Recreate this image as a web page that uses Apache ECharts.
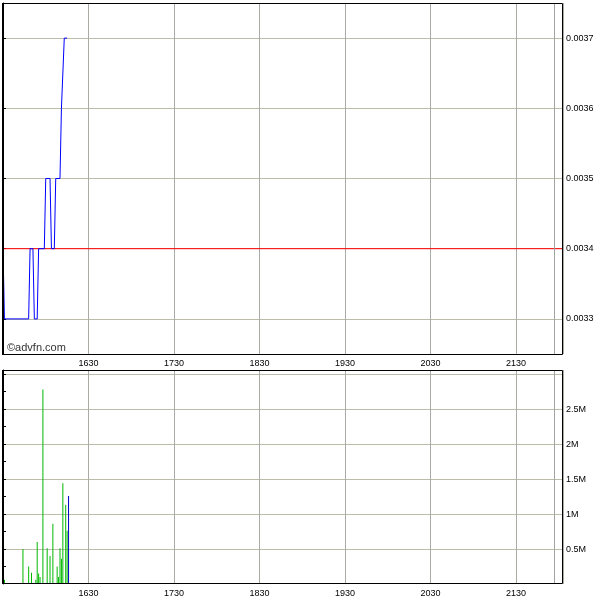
<!DOCTYPE html>
<html>
<head>
<meta charset="utf-8">
<script src="https://cdn.jsdelivr.net/npm/echarts@6/dist/echarts.min.js"></script>
<style>html,body{margin:0;padding:0;background:#fff}#c{width:600px;height:600px}</style>
</head>
<body>
<div id="c"></div>
<script>
// ---- data ----
var sessionStart = '15:30';
var sessionEnd = '21:57';
var prevClose = 0.0034;

var priceTimes = ['15:30','15:31','15:48','15:49','15:51','15:52','15:54','15:55','15:59','16:00','16:03','16:04','16:06','16:07','16:10','16:11','16:12','16:13','16:15'];
var prices     = [0.0034,0.0033,0.0033,0.0034,0.0034,0.0033,0.0033,0.0034,0.0034,0.0035,0.0035,0.0034,0.0034,0.0035,0.0035,0.0036,0.0036,0.0037,0.0037];

var volTimes = ['15:30','15:31','15:44','15:48','15:50','15:53','15:54','15:55','15:56','15:58','16:01','16:03','16:05','16:08','16:09','16:10','16:11','16:12','16:14','16:15','16:16'];
var volumes  = [130000,60000,500000,250000,160000,60000,600000,150000,100000,2780000,510000,400000,860000,250000,100000,510000,360000,1440000,1130000,760000,1260000];

var priceTicks = [0.0033,0.0034,0.0035,0.0036,0.0037];
var volTicks = [500000,1000000,1500000,2000000,2500000,3000000];
var volTickLabels = ['0.5M','1M','1.5M','2M','2.5M',''];

// ---- helpers ----
function toMin(t){var p=t.split(':');return (+p[0])*60+(+p[1]);}
var t0 = toMin(sessionStart);
function rel(t){return toMin(t)-t0;}
function hhmm(v){var m=t0+v;var h=Math.floor(m/60),mm=m%60;return ''+h+(mm<10?'0':'')+mm;}

var priceData = priceTimes.map(function(t,i){return [rel(t),prices[i]];});
var volData = volTimes.map(function(t,i){return [rel(t),volumes[i]];});

var FONT = "'Liberation Sans', Arial, sans-serif";
var XMAX = 393;

function xAxisCfg(idx){
  return {
    type:'value', gridIndex:idx, min:0, max:XMAX, interval:60,
    axisLine:{show:false}, axisTick:{show:false},
    axisLabel:{fontFamily:FONT,fontSize:9,color:'#000',margin:5,showMaxLabel:false,
      formatter:function(v){return v===0||v>=XMAX?'':hhmm(v);}},
    splitLine:{show:true,lineStyle:{color:'#a8aca4',width:1}}
  };
}

var chart = echarts.init(document.getElementById('c'), null, {renderer:'canvas'});
chart.setOption({
  animation:false,
  backgroundColor:'#fff',
  grid:[
    {left:3, top:3, width:560, height:351, containLabel:false},
    {left:3, top:370, width:560, height:214, containLabel:false}
  ],
  xAxis:[xAxisCfg(0), xAxisCfg(1)],
  yAxis:[
    {type:'value', gridIndex:0, position:'right', min:0.00325, max:0.00375, interval:0.0001,
      axisLine:{show:true,lineStyle:{color:'#000',width:1}},
      axisTick:{show:true,length:3,inside:false,customValues:priceTicks,lineStyle:{color:'#000'}},
      minorTick:{show:true,splitNumber:2,length:3,lineStyle:{color:'#000'}},
      axisLabel:{fontFamily:FONT,fontSize:9,color:'#000',margin:3,customValues:priceTicks,
        formatter:function(v){return v.toFixed(4);}},
      splitLine:{show:true,lineStyle:{color:'#bcbca8',width:1}}
    },
    {type:'value', gridIndex:1, position:'right', min:0, max:3060000, interval:500000,
      axisLine:{show:true,lineStyle:{color:'#000',width:1}},
      axisTick:{show:true,length:3,customValues:volTicks,lineStyle:{color:'#000'}},
      minorTick:{show:true,splitNumber:2,length:3,lineStyle:{color:'#000'}},
      axisLabel:{fontFamily:FONT,fontSize:9,color:'#000',margin:3,customValues:volTicks,
        formatter:function(v){var i=volTicks.indexOf(v);return i>=0?volTickLabels[i]:'';}},
      splitLine:{show:true,lineStyle:{color:'#bcbca8',width:1}}
    }
  ],
  series:[
    {type:'line', name:'prevClose', xAxisIndex:0, yAxisIndex:0,
      data:[[0,prevClose],[XMAX,prevClose]], showSymbol:false, silent:true,
      lineStyle:{color:'#ff0000',width:1}, itemStyle:{color:'#ff0000'}, z:4},
    {type:'line', xAxisIndex:0, yAxisIndex:0, data:priceData, showSymbol:false,
      lineStyle:{color:'#0000ff',width:1}, itemStyle:{color:'#0000ff'}, z:5,
      markLine:{silent:true, symbol:'none', label:{show:false},
        lineStyle:{color:'#a0a4a0',width:1,type:'solid'},
        data:[{xAxis:rel(sessionEnd)}]}
    },
    {type:'bar', xAxisIndex:1, yAxisIndex:1, data:volData, barWidth:1, barMinWidth:1,
      itemStyle:{color:function(p){return p.dataIndex===volData.length-1?'#0000c0':'#00b800';}},
      markLine:{silent:true, symbol:'none', label:{show:false},
        lineStyle:{color:'#a0a4a0',width:1,type:'solid'},
        data:[{xAxis:rel(sessionEnd)}]}
    }
  ],
  graphic:[
    {type:'rect', z:100, silent:true, shape:{x:3.5,y:3.5,width:559,height:351}, style:{fill:null,stroke:'#000',lineWidth:1}},
    {type:'rect', z:100, silent:true, shape:{x:3.5,y:370.5,width:559,height:213}, style:{fill:null,stroke:'#000',lineWidth:1}},
    {type:'line', z:101, silent:true, shape:{x1:3,y1:3,x2:3,y2:355}, style:{stroke:'#000',lineWidth:2}},
    {type:'line', z:101, silent:true, shape:{x1:3,y1:370,x2:3,y2:584}, style:{stroke:'#000',lineWidth:2}},
    {type:'text', z:100, silent:true, left:7, top:342, style:{text:'\u00a9advfn.com', font:'11px '+FONT, fill:'#333'}}
  ]
});
</script>
</body>
</html>
